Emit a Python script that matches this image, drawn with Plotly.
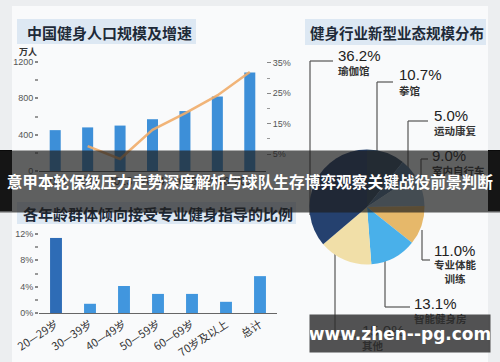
import plotly.graph_objects as go

W, H = 500, 362
def px(x): return x / W
def py(y): return 1 - y / H

# ---- data ----
years = ["2011", "2012", "2013", "2014", "2015", "2016", "2017E"]
population = [450, 480, 500, 570, 660, 820, 1085]          # 万人
growth_years = ["2012", "2013", "2014", "2015", "2016", "2017E"]
growth = [7.6, 3.4, 13.0, 18.4, 24.3, 32.0]                # %

formats = ["拳馆", "运动康复", "室内自行车", "专业体能训练", "智能健身房", "其他", "瑜伽馆"]
shares = [10.7, 5.0, 9.0, 11.0, 13.1, 15.0, 36.2]

ages = ["20—29岁", "30—39岁", "40—49岁", "50—59岁", "60—69岁", "70岁及以上", "总计"]
ratios = [11.4, 1.4, 4.1, 2.9, 2.9, 1.7, 5.6]

left_ticks = [0, 400, 800, 1200]
right_ticks = [5, 15, 25, 35]
age_ticks = [0, 4, 8, 12]

CJK = "Noto Sans CJK SC"
SANS = "Liberation Sans, Noto Sans CJK SC"

fig = go.Figure()

fig.add_trace(go.Bar(x=years, y=population, marker=dict(color="#3d8fd8", line=dict(width=0)),
                     width=0.34, xaxis="x", yaxis="y", showlegend=False))
fig.add_trace(go.Scatter(x=growth_years, y=growth, mode="lines",
                         line=dict(color="rgba(240,172,105,0.9)", width=2.5),
                         xaxis="x", yaxis="y2", showlegend=False))

pie_colors = ["#2f4a66", "#4d7398", "#9db8cc", "#e6b86a", "#49b0ea", "#f1dfa8", "#25416f"]
fig.add_trace(go.Pie(labels=formats, values=shares, sort=False, direction="clockwise",
                     rotation=0, marker=dict(colors=pie_colors, line=dict(width=0)),
                     textinfo="none", hoverinfo="label+percent", showlegend=False,
                     domain=dict(x=[px(309.5), px(424.5)], y=[py(264.5), py(149.5)])))

bar_colors = ["#2e6cb6"] + ["#4196de"] * (len(ages) - 1)
fig.add_trace(go.Bar(x=ages, y=ratios, marker=dict(color=bar_colors, line=dict(width=0)),
                     width=0.35, xaxis="x3", yaxis="y3", showlegend=False))

tickfont = dict(family=SANS, size=9, color="#555")

fig.update_layout(
    template="none",
    width=W, height=H, autosize=False,
    margin=dict(l=0, r=0, t=0, b=0, pad=0),
    paper_bgcolor="#eceef0", plot_bgcolor="rgba(0,0,0,0)",
    xaxis=dict(type="category", domain=[px(39), px(266)], anchor="y", showline=True,
               linecolor="#555", linewidth=1, ticks="", showgrid=False, zeroline=False,
               automargin=False, tickfont=dict(family=SANS, size=11, color="#333")),
    yaxis=dict(domain=[py(171), py(62)], range=[0, 1200], tickvals=left_ticks,
               ticks="outside", ticklen=3, tickwidth=2, tickcolor="#888", automargin=False,
               minor=dict(tickvals=[200, 600, 1000], ticks="outside", ticklen=3,
                          tickwidth=2, tickcolor="#999"),
               showgrid=False, zeroline=False, showline=False, tickfont=tickfont),
    yaxis2=dict(overlaying="y", side="right", anchor="x", range=[-0.57, 35.3],
                tickvals=right_ticks, ticktext=[f"{v}%" for v in right_ticks],
                ticks="outside", ticklen=4, tickwidth=1, tickcolor="#888", automargin=False,
                minor=dict(tickvals=[10, 20, 30], ticks="outside", ticklen=3,
                           tickwidth=1, tickcolor="#999"),
                showgrid=False, zeroline=False, showline=False, tickfont=tickfont),
    xaxis3=dict(type="category", domain=[px(39), px(277)], anchor="y3", showline=True,
                linecolor="#666", linewidth=1, ticks="", showgrid=False, zeroline=False,
                tickangle=-33, automargin=False,
                tickfont=dict(family=CJK, size=11, color="#333")),
    yaxis3=dict(domain=[py(313), py(234)], range=[0, 12], anchor="x3", tickvals=age_ticks,
                ticktext=[f"{v}%" for v in age_ticks], automargin=False,
                ticks="outside", ticklen=3, tickwidth=2, tickcolor="#888",
                minor=dict(tickvals=[2, 6, 10], ticks="outside", ticklen=3,
                           tickwidth=2, tickcolor="#999"),
                showgrid=False, zeroline=False, showline=False, tickfont=tickfont),
)

shapes = []
# white panel
shapes.append(dict(type="rect", xref="paper", yref="paper", x0=px(12), x1=px(488),
                   y0=py(362), y1=py(6), fillcolor="#f9fafb", line=dict(width=0), layer="below"))
# title highlights
for (x0, x1, y0, y1) in [(17, 196, 19, 44), (305, 486, 19, 45), (17, 296, 202, 224)]:
    shapes.append(dict(type="rect", xref="paper", yref="paper", x0=px(x0), x1=px(x1),
                       y0=py(y1), y1=py(y0), fillcolor="#dde8f3", line=dict(width=0),
                       layer="below"))
# leader lines for pie labels
leaders = [
    [(333, 61), (310, 61), (310, 215)],
    [(393, 82), (377, 82), (377, 190)],
    [(428, 121), (408, 121), (408, 190)],
    [(428, 159), (421, 159), (421, 195)],
    [(430, 260), (422, 260), (422, 230)],
    [(410, 307), (385, 307), (385, 250)],
    [(357, 337), (335, 337), (335, 250)],
]
for pts in leaders:
    for (a, b) in zip(pts[:-1], pts[1:]):
        shapes.append(dict(type="line", xref="paper", yref="paper", x0=px(a[0]), y0=py(a[1]),
                           x1=px(b[0]), y1=py(b[1]), line=dict(color="#555", width=1.2),
                           layer="below"))
# black edges on banner
shapes.append(dict(type="rect", xref="paper", yref="paper", x0=0, x1=px(12),
                   y0=py(211), y1=py(150), fillcolor="#000", line=dict(width=0), layer="above"))
shapes.append(dict(type="rect", xref="paper", yref="paper", x0=px(488), x1=1,
                   y0=py(211), y1=py(150), fillcolor="#000", line=dict(width=0), layer="above"))
fig.update_layout(shapes=shapes)

ann = []
def text(t, x, y, size, color="#222", bold=False, family=CJK, anchor="left"):
    ann.append(dict(text=f"<b>{t}</b>" if bold else t, x=px(x), y=py(y), xref="paper",
                    yref="paper", xanchor=anchor, yanchor="middle", showarrow=False,
                    font=dict(family=family, size=size, color=color)))

text("中国健身人口规模及增速", 25, 32, 15, "#1e2a38", True)
text("健身行业新型业态规模分布", 308, 32, 14.5, "#1e2a38", True)
text("万人", 17, 51, 9, "#333", True)

label_pos = {
    "瑜伽馆": (336, 55), "拳馆": (397, 75), "运动康复": (432, 115), "室内自行车": (430, 155),
    "专业体能训练": (432, 250), "智能健身房": (412, 303), "其他": (360, 330),
}
for name, val in zip(formats, shares):
    x, y = label_pos[name]
    text(f"{val:.1f}%", x, y, 15, "#222", False, SANS)
    nm = "专业体能<br>训练" if name == "专业体能训练" else name
    ny = y + 15 if "<br>" not in nm else y + 21
    text(nm, x, ny, 10.5, "#333", True)

text("各年龄群体倾向接受专业健身指导的比例", 21, 213, 15, "#1e2a38", True)

# banner overlay
ann.append(dict(text="<b>意甲本轮保级压力走势深度解析与球队生存博弈观察关键战役前景判断</b>",
                x=0.5, y=py(181), xref="paper", yref="paper", xanchor="center",
                yanchor="middle", showarrow=False, width=500, height=61, borderpad=0,
                bgcolor="rgba(30,30,30,0.7)",
                font=dict(family=CJK, size=15.7, color="white")))
# watermark
ann.append(dict(text="<b>www.zhen--pg.com</b>", x=px(400), y=py(333.5), xref="paper",
                yref="paper", xanchor="center", yanchor="middle", showarrow=False,
                width=180, height=37, borderpad=0, bgcolor="rgba(45,45,45,0.82)",
                font=dict(family="DejaVu Sans, Open Sans", size=17, color="white")))
fig.update_layout(annotations=ann)

fig.write_html("out.html", config={"displayModeBar": False},
               post_script="document.body.style.margin='0';document.body.style.overflow='hidden';")
